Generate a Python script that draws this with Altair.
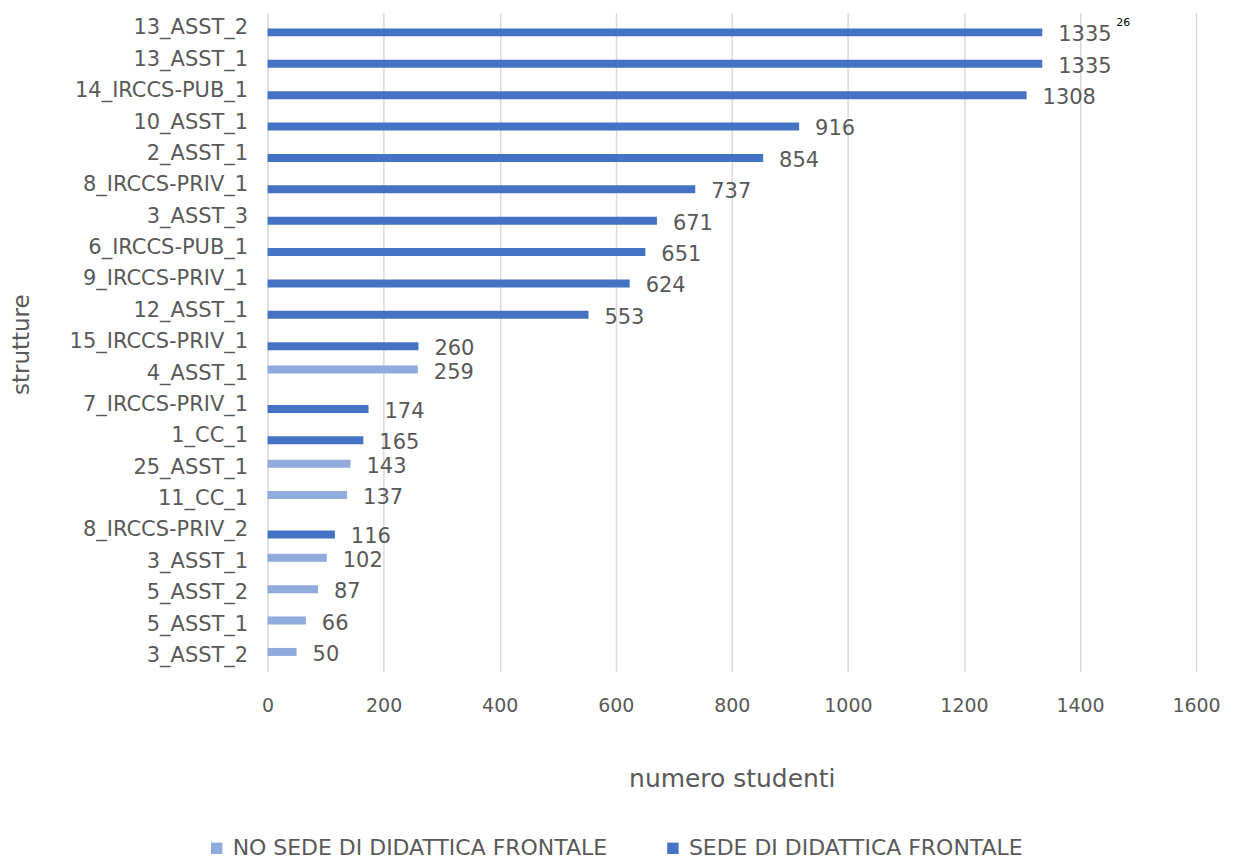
import altair as alt
import pandas as pd

categories = ["13_ASST_2", "13_ASST_1", "14_IRCCS-PUB_1", "10_ASST_1", "2_ASST_1",
              "8_IRCCS-PRIV_1", "3_ASST_3", "6_IRCCS-PUB_1", "9_IRCCS-PRIV_1", "12_ASST_1",
              "15_IRCCS-PRIV_1", "4_ASST_1", "7_IRCCS-PRIV_1", "1_CC_1", "25_ASST_1",
              "11_CC_1", "8_IRCCS-PRIV_2", "3_ASST_1", "5_ASST_2", "5_ASST_1", "3_ASST_2"]
values = [1335, 1335, 1308, 916, 854, 737, 671, 651, 624, 553, 260, 259, 174, 165, 143,
          137, 116, 102, 87, 66, 50]
SEDE = "SEDE DI DIDATTICA FRONTALE"
NO = "NO SEDE DI DIDATTICA FRONTALE"
series = [SEDE, SEDE, SEDE, SEDE, SEDE, SEDE, SEDE, SEDE, SEDE, SEDE, SEDE, NO, SEDE, SEDE,
          NO, NO, SEDE, NO, NO, NO, NO]
series_order = [NO, SEDE]
series_colors = ["#8FAADC", "#4472C4"]
note_category = ["13_ASST_2"]
note_value = [1335]
note_text = ["26"]

df = pd.DataFrame({"struttura": categories, "studenti": values, "serie": series})
note_df = pd.DataFrame({"struttura": note_category, "studenti": note_value, "t": note_text})

FONT = "DejaVu Sans"
GREY = "#595959"

y_enc = alt.Y("struttura:N", sort=categories,
              scale=alt.Scale(paddingInner=0, paddingOuter=0),
              axis=alt.Axis(title="strutture", labelFontSize=21, labelColor=GREY,
                            labelFont=FONT, labelPadding=20, ticks=False, domain=False,
                            labelLimit=400,
                            titleFont=FONT, titleFontSize=23, titleColor=GREY,
                            titleFontWeight="normal", titleX=-246, titleY=332,
                            titleAlign="center", titleBaseline="middle"))
yoff = alt.YOffset("serie:N", scale=alt.Scale(domain=series_order, paddingInner=0,
                                               paddingOuter=0.964))
x_enc = alt.X("studenti:Q", scale=alt.Scale(domain=[0, 1600]),
              axis=alt.Axis(title="numero studenti", values=list(range(0, 1601, 200)),
                            format="d", labelFlush=False,
                            grid=True, gridColor="#D9D9D9", gridWidth=1.5, domain=False,
                            ticks=False, labelFontSize=19, labelColor=GREY, labelFont=FONT,
                            labelPadding=25, titleFont=FONT, titleFontSize=25,
                            titleColor=GREY, titleFontWeight="normal", titleY=107,
                            titleBaseline="middle"))

bars = alt.Chart(df).mark_bar().encode(
    y=y_enc, yOffset=yoff, x=x_enc,
    color=alt.Color("serie:N", scale=alt.Scale(domain=series_order, range=series_colors),
                    legend=alt.Legend(title=None, orient="none", legendX=-62, legendY=826,
                                      direction="horizontal", symbolType="square",
                                      symbolSize=130, labelFontSize=22, labelFont=FONT,
                                      labelColor=GREY, columnPadding=54, labelOffset=5,
                                      labelLimit=600, symbolStrokeWidth=0))
)

labels = alt.Chart(df).mark_text(align="left", baseline="middle", dx=16, dy=3,
                                 fontSize=21, font=FONT, color=GREY).encode(
    y=alt.Y("struttura:N", sort=categories), yOffset=yoff, x="studenti:Q",
    text="studenti:Q"
)

note = alt.Chart(note_df).mark_text(align="left", baseline="middle", dx=74, dy=-5,
                                    fontSize=11, font=FONT, color="#000000").encode(
    y=alt.Y("struttura:N", sort=categories), x="studenti:Q", text="t:N"
)

chart = alt.layer(bars, labels, note).properties(
    width=930, height=660,
    autosize=alt.AutoSizeParams(type="none"),
    padding={"left": 260, "top": 4, "right": 30, "bottom": 192},
).configure(font=FONT).configure_view(stroke=None)

chart.save("out.html", embed_options={"renderer": "svg", "actions": False})
